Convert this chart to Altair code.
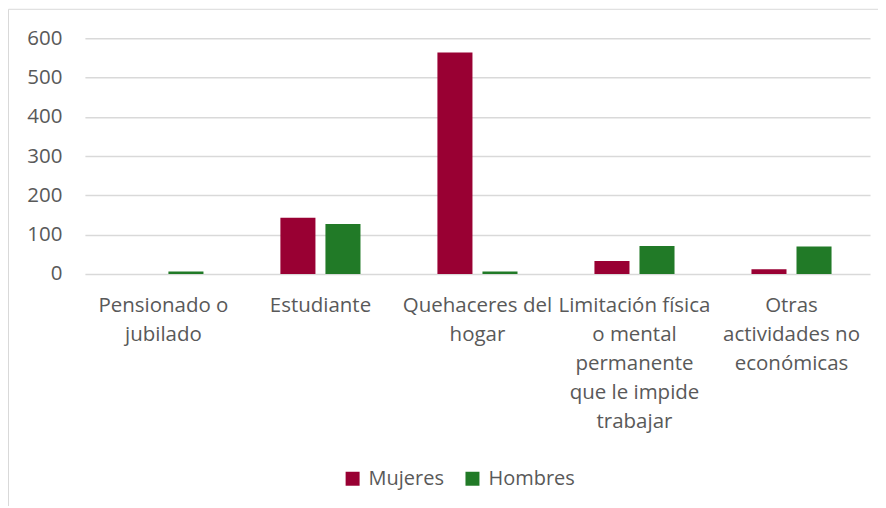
import altair as alt
import pandas as pd

categorias = [
    "Pensionado o|jubilado",
    "Estudiante",
    "Quehaceres del|hogar",
    "Limitación física|o mental|permanente|que le impide|trabajar",
    "Otras|actividades no|económicas",
]
series = ["Mujeres", "Hombres"]
mujeres = [0, 143, 564, 33, 12]
hombres = [6, 127, 6, 71, 70]
colores = ["#990033", "#217A27"]
ticks_y = [0, 100, 200, 300, 400, 500, 600]

rows = []
for c, m, h in zip(categorias, mujeres, hombres):
    rows.append({"cat": c, "serie": "Mujeres", "valor": m})
    rows.append({"cat": c, "serie": "Hombres", "valor": h})
df = pd.DataFrame(rows)

W, H = 786, 236
FONT = "Open Sans"
TXT = "#595959"
FS = 20.5

bars = alt.Chart(df).mark_bar().encode(
    x=alt.X(
        "cat:N", sort=categorias, title=None,
        scale=alt.Scale(paddingInner=0.49, paddingOuter=0.245),
        axis=alt.Axis(
            labelExpr="split(datum.label, '|')", labelAngle=0, ticks=False, domain=False,
            labelPadding=22, labelLineHeight=29, labelBaseline="top", labelLimit=400,
            labelFontSize=FS, labelFont=FONT, labelColor=TXT,
        ),
    ),
    xOffset=alt.XOffset("serie:N", sort=series,
                        scale=alt.Scale(domain=series, paddingInner=0.222, paddingOuter=0)),
    y=alt.Y(
        "valor:Q", title=None,
        scale=alt.Scale(domain=[0, 600], nice=False),
        axis=alt.Axis(
            values=ticks_y, ticks=False, domain=False, gridColor="#d9d9d9", gridWidth=1.5,
            labelPadding=23, labelFontSize=FS, labelFont=FONT, labelColor=TXT,
        ),
    ),
    color=alt.Color(
        "serie:N", sort=series,
        scale=alt.Scale(domain=series, range=colores),
        legend=alt.Legend(
            title=None, orient="none", legendX=258, legendY=431, direction="horizontal",
            symbolType="square", symbolSize=196, symbolStrokeWidth=0, symbolOpacity=1,
            labelFontSize=20, labelFont=FONT, labelColor=TXT, labelOffset=6,
            columnPadding=18, padding=0,
        ),
    ),
)

frame = alt.Chart(alt.Data(values=[{}])).mark_rect(
    fillOpacity=0, stroke="#d9d9d9", strokeWidth=1
).encode(
    x=alt.value(-76.5), x2=alt.value(W + 100),
    y=alt.value(-29), y2=alt.value(H + 300),
)

chart = alt.layer(frame, bars).properties(
    width=W, height=H,
    padding={"left": 77, "top": 30, "right": 8, "bottom": 232},
    autosize=alt.AutoSizeParams(type="none"),
).configure_view(stroke=None)

chart.save("out.html", embed_options={"renderer": "svg", "actions": False})
